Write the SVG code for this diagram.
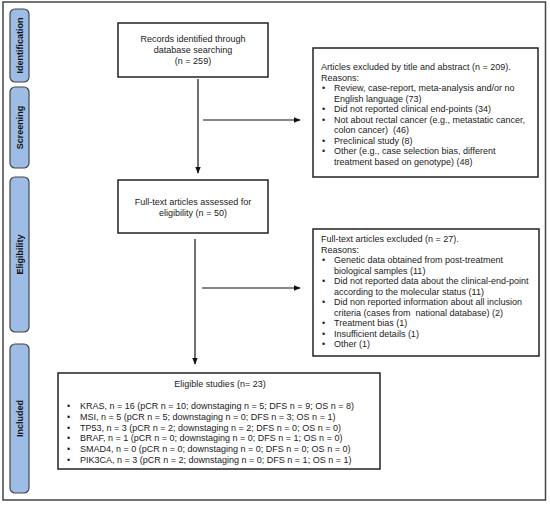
<svg xmlns="http://www.w3.org/2000/svg" width="550" height="505" viewBox="0 0 550 505">
<defs>
<marker id="ah" viewBox="0 0 10 10" refX="9" refY="5" markerWidth="7" markerHeight="7" markerUnits="userSpaceOnUse" orient="auto">
<path d="M0,1 L10,5 L0,9 Z" fill="#111"/>
</marker>
<style>
.frame{fill:#fff;stroke:#444;stroke-width:1.5}
.side{fill:#9dbde6;stroke:#444;stroke-width:1.2}
.box{fill:#fff;stroke:#222;stroke-width:1.5}
.lbl{font-family:"Liberation Sans",Arial,sans-serif;font-size:9px;font-weight:bold;fill:#111}
.t{font-family:"Liberation Sans",Arial,sans-serif;font-size:9px;fill:#222;white-space:pre}
.c{text-anchor:middle}
.ln{stroke:#111;stroke-width:1.2;fill:none}
</style>
</defs>
<rect x="3" y="2" width="542.5" height="498" class="frame"/>
<g id="stage-identification">
<rect x="10" y="9" width="19" height="73" rx="5" class="side"/>
<text class="lbl c" transform="translate(22.5,45.5) rotate(-90)">Identification</text>
</g>
<g id="stage-screening">
<rect x="10" y="87" width="19" height="81" rx="5" class="side"/>
<text class="lbl c" transform="translate(22.5,127.5) rotate(-90)">Screening</text>
</g>
<g id="stage-eligibility">
<rect x="10" y="177" width="19" height="155" rx="5" class="side"/>
<text class="lbl c" transform="translate(22.5,254.5) rotate(-90)">Eligibility</text>
</g>
<g id="stage-included">
<rect x="10" y="344" width="19" height="149" rx="5" class="side"/>
<text class="lbl c" transform="translate(22.5,418.5) rotate(-90)">Included</text>
</g>
<g id="connectors">
<line x1="198" y1="79" x2="198" y2="173" class="ln" marker-end="url(#ah)"/>
<line x1="203" y1="120" x2="300" y2="120" class="ln" marker-end="url(#ah)"/>
<line x1="195" y1="239" x2="195" y2="364" class="ln" marker-end="url(#ah)"/>
<line x1="202" y1="288" x2="300" y2="288" class="ln" marker-end="url(#ah)"/>
</g>
<g id="records">
<rect x="118" y="23" width="150" height="54" class="box"/>
<text class="t c" x="193" y="42">Records identified through</text>
<text class="t c" x="193" y="53">database searching</text>
<text class="t c" x="193" y="64">(n = 259)</text>
</g>
<g id="excluded-screening">
<rect x="313" y="48" width="225" height="129" class="box"/>
<text class="t" x="321" y="70">Articles excluded by title and abstract (n = 209).</text>
<text class="t" x="321" y="80.5">Reasons:</text>
<text class="t" x="322" y="91">•</text><text class="t" x="334" y="91">Review, case-report, meta-analysis and/or no</text>
<text class="t" x="334" y="101.5">English language (73)</text>
<text class="t" x="322" y="112">•</text><text class="t" x="334" y="112">Did not reported clinical end-points (34)</text>
<text class="t" x="322" y="122.5">•</text><text class="t" x="334" y="122.5">Not about rectal cancer (e.g., metastatic cancer,</text>
<text class="t" x="334" y="133" xml:space="preserve">colon cancer)  (46)</text>
<text class="t" x="322" y="143.5">•</text><text class="t" x="334" y="143.5">Preclinical study (8)</text>
<text class="t" x="322" y="154">•</text><text class="t" x="334" y="154">Other (e.g., case selection bias, different</text>
<text class="t" x="334" y="164.5">treatment based on genotype) (48)</text>
</g>
<g id="fulltext">
<rect x="118" y="180" width="150" height="53" class="box"/>
<text class="t c" x="193" y="205">Full-text articles assessed for</text>
<text class="t c" x="193" y="216">eligibility (n = 50)</text>
</g>
<g id="excluded-eligibility">
<rect x="313" y="229" width="226" height="127" class="box"/>
<text class="t" x="321" y="242">Full-text articles excluded (n = 27).</text>
<text class="t" x="321" y="252.5">Reasons:</text>
<text class="t" x="322" y="263">•</text><text class="t" x="334" y="263">Genetic data obtained from post-treatment</text>
<text class="t" x="334" y="273.5">biological samples (11)</text>
<text class="t" x="322" y="284">•</text><text class="t" x="334" y="284">Did not reported data about the clinical-end-point</text>
<text class="t" x="334" y="294.5">according to the molecular status (11)</text>
<text class="t" x="322" y="305">•</text><text class="t" x="334" y="305">Did non reported information about all inclusion</text>
<text class="t" x="334" y="315.5" xml:space="preserve">criteria (cases from  national database) (2)</text>
<text class="t" x="322" y="326">•</text><text class="t" x="334" y="326">Treatment bias (1)</text>
<text class="t" x="322" y="336.5">•</text><text class="t" x="334" y="336.5">Insufficient details (1)</text>
<text class="t" x="322" y="347">•</text><text class="t" x="334" y="347">Other (1)</text>
</g>
<g id="eligible">
<rect x="58" y="373" width="322" height="96" class="box"/>
<text class="t c" x="220" y="387">Eligible studies (n= 23)</text>
<text class="t" x="67" y="409">•</text><text class="t" x="80" y="409">KRAS, n = 16 (pCR n = 10; downstaging n = 5; DFS n = 9; OS n = 8)</text>
<text class="t" x="67" y="419.8">•</text><text class="t" x="80" y="419.8">MSI, n = 5 (pCR n = 5; downstaging n = 0; DFS n = 3; OS n = 1)</text>
<text class="t" x="67" y="430.6">•</text><text class="t" x="80" y="430.6">TP53, n = 3 (pCR n = 2; downstaging n = 2; DFS n = 0; OS n = 0)</text>
<text class="t" x="67" y="441.4">•</text><text class="t" x="80" y="441.4">BRAF, n = 1 (pCR n = 0; downstaging n = 0; DFS n = 1; OS n = 0)</text>
<text class="t" x="67" y="452.2">•</text><text class="t" x="80" y="452.2">SMAD4, n = 0 (pCR n = 0; downstaging n = 0; DFS n = 0; OS n = 0)</text>
<text class="t" x="67" y="463">•</text><text class="t" x="80" y="463">PIK3CA, n = 3 (pCR n = 2; downstaging n = 0; DFS n = 1; OS n = 1)</text>
</g>
</svg>
